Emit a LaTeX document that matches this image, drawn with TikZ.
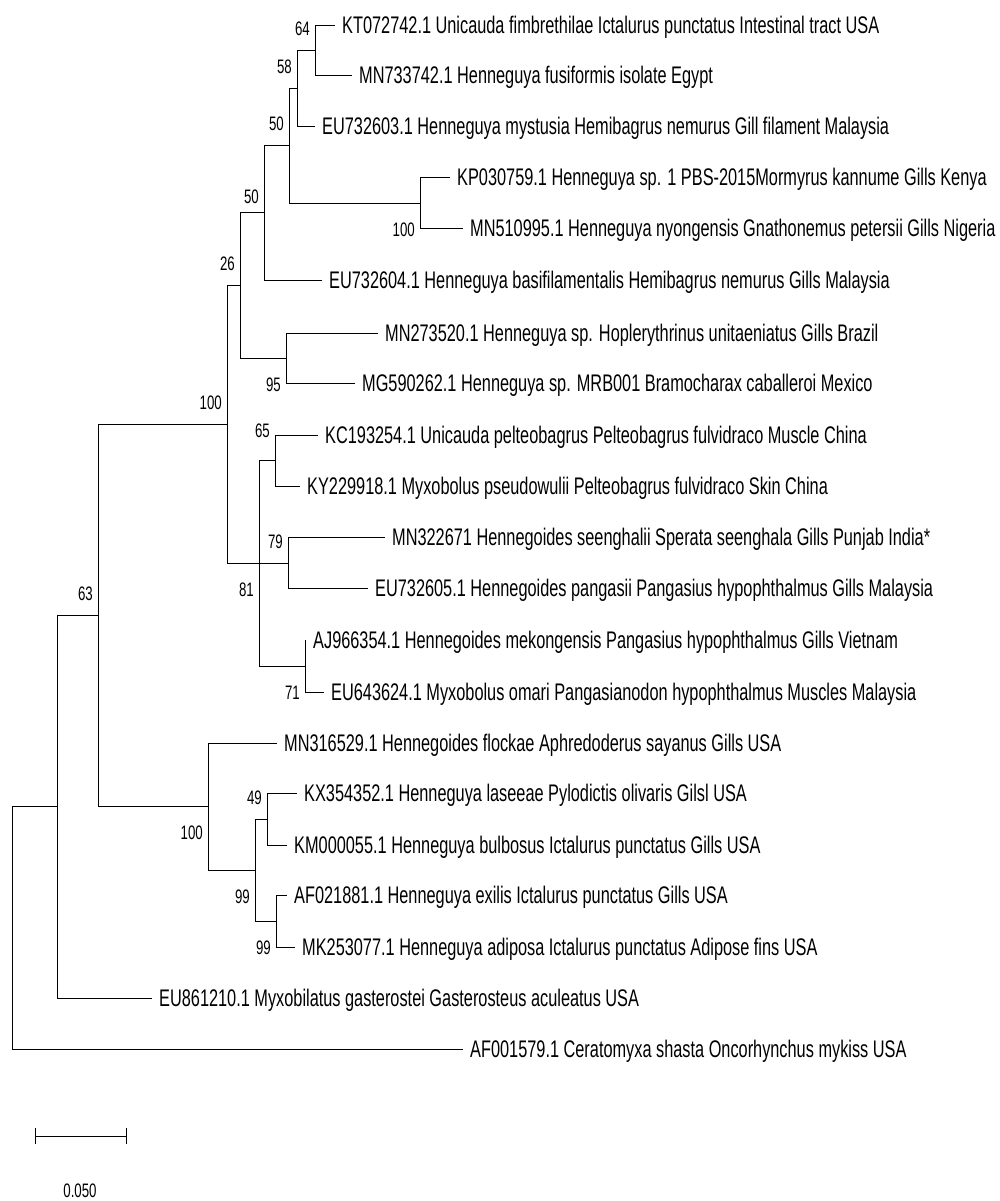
\documentclass[tikz,border=0pt]{standalone}
\usepackage{fontspec}
\newfontfamily\treefont[FakeStretch=0.68]{Liberation Sans}
\usetikzlibrary{positioning, arrows.meta}
\tikzset{
line width=1.8pt, % branch thickness
branch/.style={to path={|- (\tikztotarget)}}, % elbow shaped branches
leaf/.style={anchor=west, inner xsep=7pt, inner ysep=0pt, text height=17.5pt, text depth=0pt, font=\treefont\fontsize{24}{24}\selectfont}, % taxon names
boot/.style={inner sep=0pt, text height=14pt, text depth=0pt, font=\treefont\fontsize{19.5}{20}\selectfont}, % bootstrap values
}

\begin{document}
\begin{tikzpicture}[x=1pt, y=-1pt]
        \useasboundingbox (0,0) rectangle (999,1201);

        % taxa
        \node[leaf] (t1) at (335,25) {KT072742.1 Unicauda fimbrethilae Ictalurus punctatus Intestinal tract USA};
        \node[leaf] (t2) at (352,75) {MN733742.1 Henneguya fusiformis isolate Egypt};
        \node[leaf] (t3) at (315,126) {EU732603.1 Henneguya mystusia Hemibagrus nemurus Gill filament Malaysia};
        \node[leaf] (t4) at (450,177) {KP030759.1 Henneguya sp. 1 PBS-2015Mormyrus kannume Gills Kenya};
        \node[leaf] (t5) at (463,228) {MN510995.1 Henneguya nyongensis Gnathonemus petersii Gills Nigeria};
        \node[leaf] (t6) at (322,280) {EU732604.1 Henneguya basifilamentalis Hemibagrus nemurus Gills Malaysia};
        \node[leaf] (t7) at (378,333) {MN273520.1 Henneguya sp. Hoplerythrinus unitaeniatus Gills Brazil};
        \node[leaf] (t8) at (355,383) {MG590262.1 Henneguya sp. MRB001 Bramocharax caballeroi Mexico};
        \node[leaf] (t9) at (318,435) {KC193254.1 Unicauda pelteobagrus Pelteobagrus fulvidraco Muscle China};
        \node[leaf] (t10) at (300,486) {KY229918.1 Myxobolus pseudowulii Pelteobagrus fulvidraco Skin China};
        \node[leaf] (t11) at (385,537) {MN322671 Hennegoides seenghalii Sperata seenghala Gills Punjab India*};
        \node[leaf] (t12) at (368,588) {EU732605.1 Hennegoides pangasii Pangasius hypophthalmus Gills Malaysia};
        \node[leaf] (t13) at (306,640) {AJ966354.1 Hennegoides mekongensis Pangasius hypophthalmus Gills Vietnam};
        \node[leaf] (t14) at (324,692) {EU643624.1 Myxobolus omari Pangasianodon hypophthalmus Muscles Malaysia};
        \node[leaf] (t15) at (277,743) {MN316529.1 Hennegoides flockae Aphredoderus sayanus Gills USA};
        \node[leaf] (t16) at (297,793) {KX354352.1 Henneguya laseeae Pylodictis olivaris Gilsl USA};
        \node[leaf] (t17) at (287,845) {KM000055.1 Henneguya bulbosus Ictalurus punctatus Gills USA};
        \node[leaf] (t18) at (287,895) {AF021881.1 Henneguya exilis Ictalurus punctatus Gills USA};
        \node[leaf] (t19) at (295,947) {MK253077.1 Henneguya adiposa Ictalurus punctatus Adipose fins USA};
        \node[leaf] (t20) at (152,998) {EU861210.1 Myxobilatus gasterostei Gasterosteus aculeatus USA};
        \node[leaf] (t21) at (463,1049) {AF001579.1 Ceratomyxa shasta Oncorhynchus mykiss USA};

        % internal nodes
        \coordinate (n1) at (315,50);
        \coordinate (n2) at (297,88);
        \coordinate (n3) at (420,203);
        \coordinate (n4) at (289,145);
        \coordinate (n5) at (264,212);
        \coordinate (n6) at (286,358);
        \coordinate (n7) at (240,285);
        \coordinate (n8) at (275,460);
        \coordinate (n9) at (288,563);
        \coordinate (n10) at (305,666);
        \coordinate (n11) at (259,563);
        \coordinate (n12) at (227,424);
        \coordinate (n13) at (267,819);
        \coordinate (n14) at (276,921);
        \coordinate (n15) at (255,870);
        \coordinate (n16) at (208,806);
        \coordinate (n17) at (98,615);
        \coordinate (n18) at (57,806);
        \coordinate (n0) at (12,928);

        \draw (n1) edge[branch] (t1.west) edge[branch] (t2.west)
        (n2) edge[branch] (n1) edge[branch] (t3.west)
        (n3) edge[branch] (t4.west) edge[branch] (t5.west)
        (n4) edge[branch] (n2) edge[branch] (n3)
        (n5) edge[branch] (n4) edge[branch] (t6.west)
        (n6) edge[branch] (t7.west) edge[branch] (t8.west)
        (n7) edge[branch] (n5) edge[branch] (n6)
        (n8) edge[branch] (t9.west) edge[branch] (t10.west)
        (n9) edge[branch] (t11.west) edge[branch] (t12.west)
        (n10) edge[branch] (t13.west) edge[branch] (t14.west)
        (n11) edge[branch] (n8) edge[branch] (n9) edge[branch] (n10)
        (n12) edge[branch] (n7) edge[branch] (n11)
        (n13) edge[branch] (t16.west) edge[branch] (t17.west)
        (n14) edge[branch] (t18.west) edge[branch] (t19.west)
        (n15) edge[branch] (n13) edge[branch] (n14)
        (n16) edge[branch] (t15.west) edge[branch] (n15)
        (n17) edge[branch] (n12) edge[branch] (n16)
        (n18) edge[branch] (n17) edge[branch] (t20.west)
        (n0) edge[branch] (n18) edge[branch] (t21.west);

        % bootstrap values
        \node[boot, above left=14pt and 5pt of n1] (b1) {64};
        \node[boot, above left=14pt and 5pt of n2] (b2) {58};
        \node[boot, below left=19pt and 5pt of n3] (b3) {100};
        \node[boot, above left=14pt and 5pt of n4] (b4) {50};
        \node[boot, above left=8pt and 5pt of n5] (b5) {50};
        \node[boot, below left=19pt and 5pt of n6] (b6) {95};
        \node[boot, above left=14pt and 5pt of n7] (b7) {26};
        \node[boot, above left=22pt and 5pt of n8] (b8) {65};
        \node[boot, above left=14pt and 5pt of n9] (b9) {79};
        \node[boot, below left=19pt and 5pt of n10] (b10) {71};
        \node[boot, below left=19pt and 5pt of n11] (b11) {81};
        \node[boot, above left=14pt and 5pt of n12] (b12) {100};
        \node[boot, above left=14pt and 5pt of n13] (b13) {49};
        \node[boot, below left=19pt and 5pt of n14] (b14) {99};
        \node[boot, below left=19pt and 5pt of n15] (b15) {99};
        \node[boot, below left=19pt and 5pt of n16] (b16) {100};
        \node[boot, above left=14pt and 5pt of n17] (b17) {63};

        % scale bar
        \coordinate (s0) at (35,1136);
        \coordinate (s1) at (126,1136);
        \draw[{Bar[width=16pt]}-{Bar[width=16pt]}] (s0) -- (s1);
        \node[boot] (s2) at (80,1190) {0.050};
      \end{tikzpicture}
\end{document}
